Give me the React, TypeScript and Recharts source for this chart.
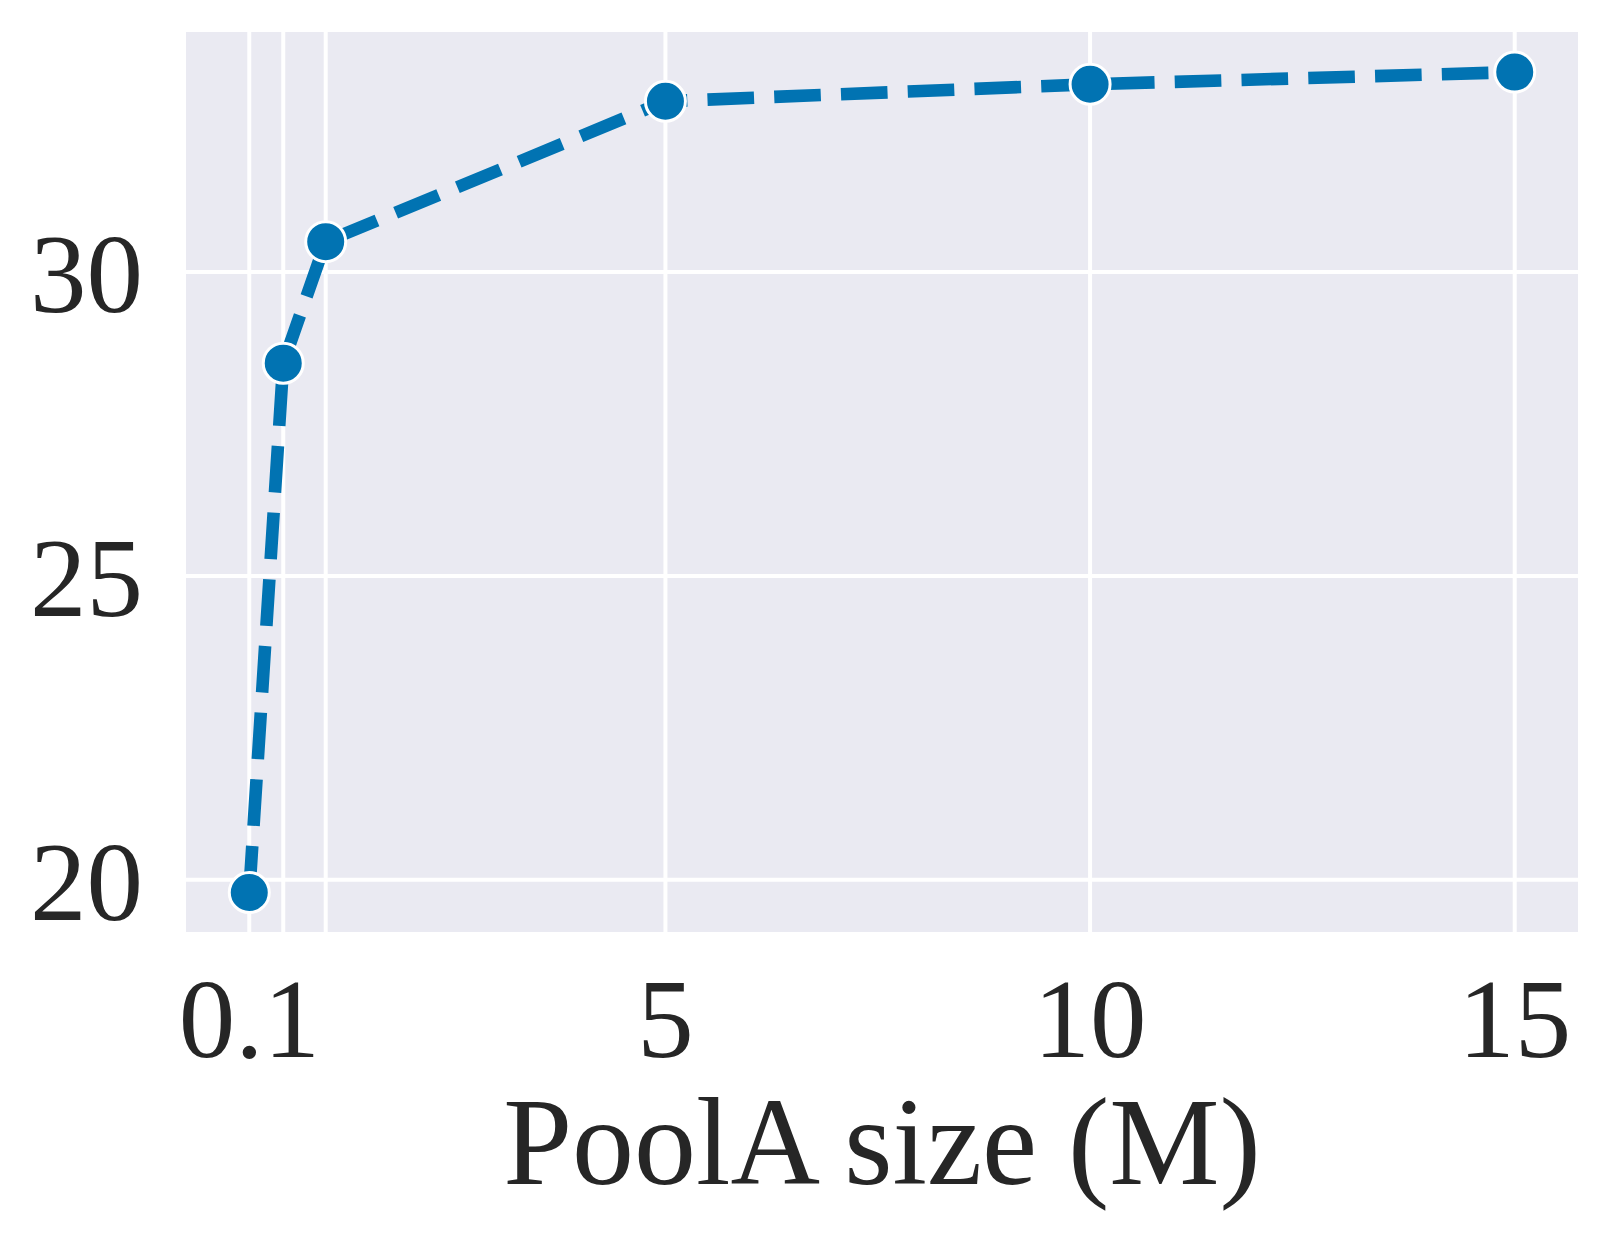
import { LineChart, Line, XAxis, YAxis, CartesianGrid, Label } from 'recharts';

// PoolA size (M) vs score
const poolSizes = [0.1, 0.5, 1, 5, 10, 15];
const scores = [19.79, 28.5, 30.5, 32.81, 33.09, 33.29];

const xTicks = [0.1, 0.5, 1, 5, 10, 15];
const xTickLabels = ['0.1', '', '', '5', '10', '15'];
const yTicks = [20, 25, 30];

const FONT = '"Liberation Serif", "Times New Roman", serif';
const TEXT = '#262626';
const BLUE = '#0173B2';

export default function App() {
  const data = poolSizes.map((x, i) => ({ x, y: scores[i] }));

  return (
    <div style={{ position: 'absolute', left: 0, top: 0, background: '#fff' }}>
      <LineChart
        width={1609}
        height={1241}
        data={data}
        margin={{ top: 32, right: 31, left: 0, bottom: 0 }}
      >
        <CartesianGrid
          fill="#EAEAF2"
          stroke="#ffffff"
          strokeWidth={4}
          verticalValues={xTicks}
          horizontalValues={yTicks}
        />
        <XAxis
          dataKey="x"
          type="number"
          domain={[-0.645, 15.745]}
          ticks={xTicks}
          tickFormatter={(v: number) => xTickLabels[xTicks.indexOf(v)] ?? ''}
          allowDataOverflow
          axisLine={false}
          tickLine={false}
          tickSize={0}
          tickMargin={45}
          height={309}
          interval={0}
          tick={{ fill: TEXT, fontSize: 113, fontFamily: FONT }}
        >
          <Label
            value="PoolA size (M)"
            position="insideBottom"
            offset={57}
            style={{ fill: TEXT, fontSize: 124, fontFamily: FONT }}
          />
        </XAxis>
        <YAxis
          type="number"
          domain={[19.14, 33.95]}
          ticks={yTicks}
          allowDataOverflow
          axisLine={false}
          tickLine={false}
          tickSize={0}
          tickMargin={43}
          width={186}
          interval={0}
          tick={{ fill: TEXT, fontSize: 113, fontFamily: FONT }}
        />
        <Line
          type="linear"
          dataKey="y"
          stroke={BLUE}
          strokeWidth={12.6}
          strokeDasharray="46.6 20.2"
          dot={{ r: 20, fill: BLUE, stroke: '#ffffff', strokeWidth: 3, strokeDasharray: 'none' }}
          activeDot={false}
          isAnimationActive={false}
        />
      </LineChart>
    </div>
  );
}
